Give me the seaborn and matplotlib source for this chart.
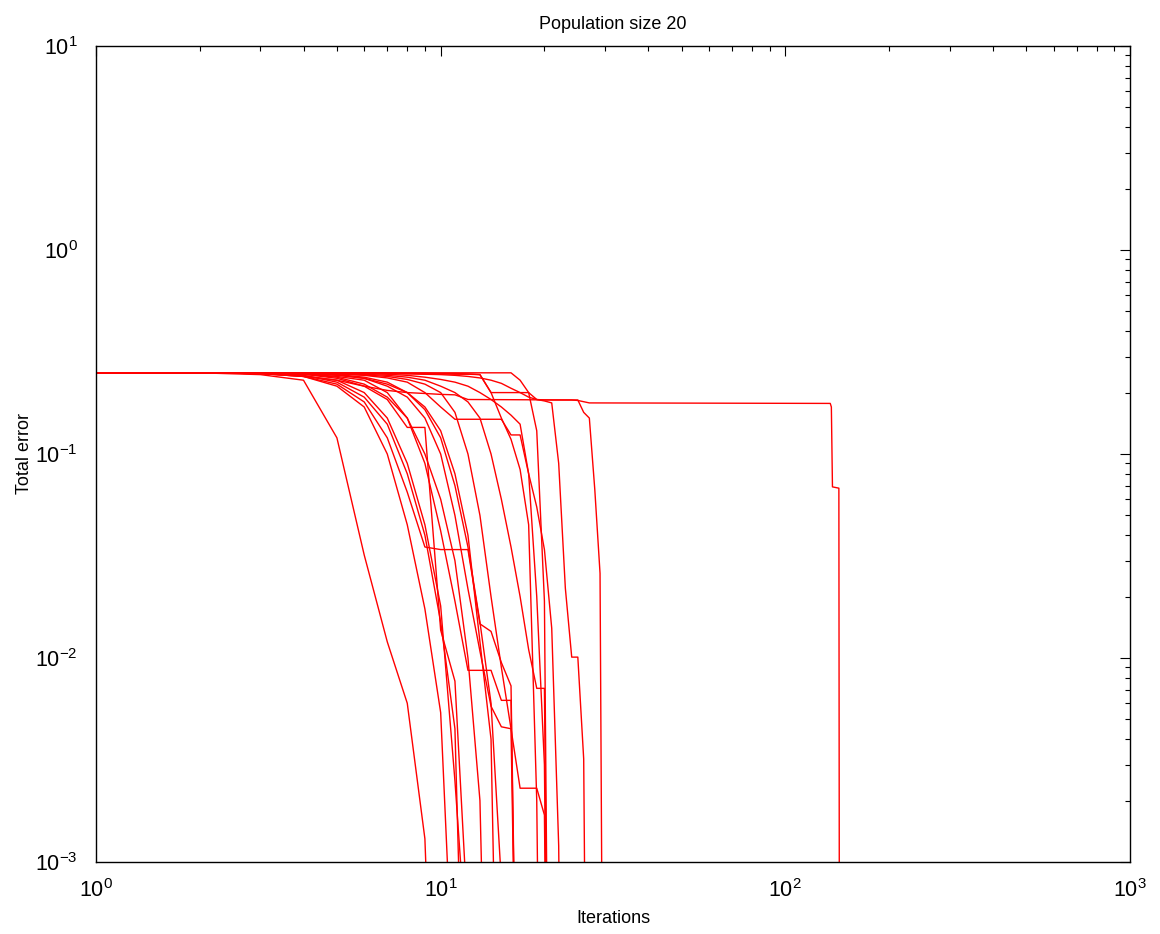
import numpy as np
import pandas as pd
import matplotlib
matplotlib.use("Agg")
import matplotlib.pyplot as plt
import seaborn as sns
from matplotlib.ticker import LogLocator, NullFormatter

# ---- data: total error per iteration for each run (population size 20) ----
run01 = [0.25, 0.25, 0.245, 0.23, 0.12, 0.032, 0.012, 0.006, 0.0013, 1e-5]
run02 = [0.25, 0.25, 0.248, 0.24, 0.215, 0.17, 0.1, 0.045, 0.0174, 0.0054, 1.5e-4]
run03 = [0.25, 0.25, 0.249, 0.246, 0.235, 0.215, 0.185, 0.135, 0.135, 0.0137, 0.0077, 5e-4]
run04 = [0.25, 0.25, 0.248, 0.243, 0.225, 0.19, 0.14, 0.08, 0.04, 0.015, 0.0045, 2e-5]
run05 = [0.25, 0.25, 0.248, 0.24, 0.22, 0.18, 0.12, 0.065, 0.035, 0.034, 0.034, 0.034,
         0.0147, 0.0135, 0.0095, 0.0073, 1e-5]
run06 = [0.25, 0.25, 0.249, 0.247, 0.24, 0.23, 0.2, 0.15, 0.09, 0.042, 0.019, 0.0087,
         0.0087, 0.0087, 0.0062, 0.0062, 1e-5]
run07 = [0.25, 0.25, 0.249, 0.248, 0.245, 0.235, 0.215, 0.19, 0.15, 0.1, 0.05, 0.0218,
         0.0108, 0.0058, 0.0046, 0.0045, 1e-5]
run08 = [0.25, 0.25, 0.25, 0.249, 0.248, 0.246, 0.243, 0.238, 0.23, 0.215, 0.2, 0.18,
         0.15, 0.1, 0.06, 0.035, 0.02, 0.011, 0.0071, 0.0071, 1e-6]
run09 = [0.25, 0.25, 0.25, 0.249, 0.247, 0.244, 0.24, 0.232, 0.22, 0.2, 0.16, 0.1,
         0.05, 0.02, 0.009, 0.0045, 0.0023, 0.0023, 0.0023, 0.0017, 1e-6]
run10 = [0.25, 0.25, 0.248, 0.242, 0.23, 0.2, 0.15, 0.09, 0.045, 0.018, 0.0025, 3e-4]
run11 = [0.25, 0.25, 0.25, 0.25, 0.249, 0.248, 0.246, 0.243, 0.238, 0.232, 0.225, 0.215,
         0.2, 0.185, 0.17, 0.155, 0.14, 0.08, 0.055, 0.034, 0.014, 0.0012, 1e-6]
run12 = [0.25, 0.25, 0.249, 0.246, 0.238, 0.22, 0.19, 0.15, 0.1, 0.06, 0.03, 0.01,
         0.002, 1e-5]
run13 = [0.25, 0.25, 0.25, 0.249, 0.247, 0.243, 0.236, 0.225, 0.2, 0.17, 0.148, 0.148,
         0.148, 0.148, 0.148, 0.124, 0.124, 0.08, 0.02, 0.003, 1e-6]
run14_x = [1, 2, 3, 4, 5, 6, 7, 8, 9, 10, 11, 12, 24, 25, 27, 135, 136, 137, 143, 144]
run14 = [0.25, 0.25, 0.248, 0.24, 0.23, 0.215, 0.205, 0.2, 0.198, 0.196, 0.195, 0.185,
         0.184, 0.183, 0.178, 0.177, 0.17, 0.069, 0.068, 1e-6]
run15 = [0.25, 0.25, 0.25, 0.25, 0.25, 0.25, 0.25, 0.249, 0.249, 0.248, 0.248, 0.247,
         0.245, 0.2, 0.2, 0.2, 0.2, 0.2, 0.185, 0.184, 0.184, 0.184, 0.184, 0.184,
         0.184, 0.16, 0.15, 0.067, 0.026, 1e-6]
run16 = [0.25, 0.25, 0.25, 0.25, 0.249, 0.249, 0.248, 0.247, 0.246, 0.245, 0.243, 0.24,
         0.236, 0.23, 0.222, 0.21, 0.2, 0.19, 0.185, 0.182, 0.178, 0.09, 0.022, 0.0101,
         0.0101, 0.0032, 1e-6]
run17 = [0.25, 0.25, 0.25, 0.25, 0.25, 0.25, 0.25, 0.25, 0.25, 0.25, 0.25, 0.25,
         0.25, 0.25, 0.25, 0.25, 0.23, 0.2, 0.13, 0.019, 1e-6]
run18 = [0.25, 0.25, 0.25, 0.25, 0.249, 0.249, 0.248, 0.248, 0.247, 0.247, 0.246, 0.246,
         0.245, 0.2, 0.15, 0.118, 0.084, 0.045, 0.002, 1e-6]
run19 = [0.25, 0.25, 0.249, 0.247, 0.243, 0.235, 0.22, 0.2, 0.17, 0.13, 0.08, 0.04,
         0.012, 0.004, 1e-5]
run20 = [0.25, 0.25, 0.25, 0.248, 0.245, 0.238, 0.225, 0.2, 0.165, 0.12, 0.07, 0.035,
         0.015, 0.006, 0.0008, 1e-6]

runs = [run01, run02, run03, run04, run05, run06, run07, run08, run09, run10,
        run11, run12, run13, run14, run15, run16, run17, run18, run19, run20]
xs = [list(range(1, len(r) + 1)) for r in runs]
xs[13] = run14_x

frames = []
for i, (x, y) in enumerate(zip(xs, runs)):
    frames.append(pd.DataFrame({"Iterations": x, "Total error": y, "run": i}))
df = pd.concat(frames, ignore_index=True)

# ---- style ----
sns.set_style("white")
plt.rcParams["font.family"] = ["Liberation Sans", "DejaVu Sans"]
plt.rcParams["mathtext.fontset"] = "custom"
plt.rcParams["mathtext.rm"] = "Liberation Sans"
plt.rcParams["mathtext.it"] = "Liberation Sans:italic"
plt.rcParams["mathtext.bf"] = "Liberation Sans:bold"
plt.rcParams["text.color"] = "black"
plt.rcParams["axes.labelcolor"] = "black"

fig = plt.figure(figsize=(11.6, 9.34), dpi=100)
ax = fig.add_axes([96 / 1160, 1 - 862 / 934, (1130 - 96) / 1160, (862 - 46) / 934])

sns.lineplot(data=df, x="Iterations", y="Total error", units="run", estimator=None,
             color="#ff0000", linewidth=1.0, legend=False, ax=ax, sort=False)

ax.set_xscale("log")
ax.set_yscale("log")
ax.set_xlim(1, 1000)
ax.set_ylim(1e-3, 10)

ax.xaxis.set_major_locator(LogLocator(base=10, numticks=10))
ax.yaxis.set_major_locator(LogLocator(base=10, numticks=10))
ax.xaxis.set_minor_locator(LogLocator(base=10, subs=np.arange(2, 10), numticks=100))
ax.yaxis.set_minor_locator(LogLocator(base=10, subs=np.arange(2, 10), numticks=100))
ax.xaxis.set_minor_formatter(NullFormatter())
ax.yaxis.set_minor_formatter(NullFormatter())

ax.tick_params(which="both", direction="in", top=True, right=True, colors="black",
               labelsize=15.5)
ax.tick_params(which="major", length=7, width=0.8)
ax.tick_params(which="minor", length=3.5, width=0.8)
ax.tick_params(axis="x", which="major", pad=12)
ax.tick_params(axis="y", which="major", pad=13)
for s in ax.spines.values():
    s.set_visible(True)
    s.set_color("black")
    s.set_linewidth(1.0)

ax.set_title("Population size 20", fontsize=13, pad=12, color="black")
ax.set_xlabel("Iterations", fontsize=13, labelpad=6, color="black")
ax.set_ylabel("Total error", fontsize=13, labelpad=2, color="black")

fig.savefig("out.png", dpi=100)
